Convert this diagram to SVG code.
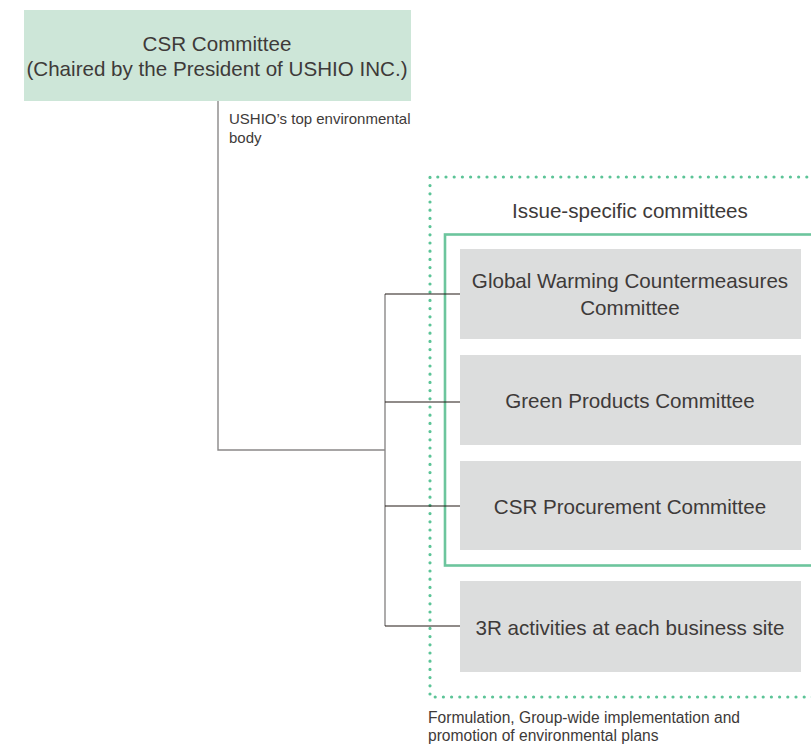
<svg xmlns="http://www.w3.org/2000/svg" width="811" height="746" viewBox="0 0 811 746">
<style>
text{font-family:"Liberation Sans",Arial,sans-serif;fill:#3e3a39}
.t{font-size:20.6px;text-anchor:middle}
.s{font-size:15px}
.b{font-size:15.6px}
.box{fill:#dcdddd}
.v{stroke:#8a8888;stroke-width:1.4;fill:none}
.h{stroke:#231815;stroke-width:1.1;fill:none}
</style>
<rect width="811" height="746" fill="#ffffff"/>
<g id="issue-group">
<path d="M815 177 H430 V697 H815" fill="none" stroke="#5cc497" stroke-width="3.2" stroke-linecap="round" stroke-dasharray="0 8.2"/>
<text class="t" x="630" y="218">Issue-specific committees</text>
<rect x="445" y="234.5" width="380" height="331" fill="none" stroke="#6cc59d" stroke-width="2.6"/>
</g>
<g id="connectors">
<path class="v" d="M218 100 V450 H385"/>
<path class="v" d="M385 294 V626"/>
<path class="h" d="M385 294 H460 M385 402 H460 M385 506 H460 M385 626 H460"/>
</g>
<g id="csr">
<rect x="24" y="10" width="387" height="91" fill="#cde6d8"/>
<text class="t" x="217" y="51">CSR Committee</text>
<text class="t" x="217" y="76">(Chaired by the President of USHIO INC.)</text>
</g>
<g id="label-top">
<text class="s" x="229" y="124">USHIO’s top environmental</text>
<text class="s" x="229" y="143">body</text>
</g>
<g id="gw">
<rect class="box" x="460" y="249" width="341" height="90"/>
<text class="t" x="630" y="288">Global Warming Countermeasures</text>
<text class="t" x="630" y="315">Committee</text>
</g>
<g id="gp">
<rect class="box" x="460" y="355" width="341" height="90"/>
<text class="t" x="630" y="408">Green Products Committee</text>
</g>
<g id="proc">
<rect class="box" x="460" y="461" width="341" height="89"/>
<text class="t" x="630" y="514">CSR Procurement Committee</text>
</g>
<g id="r3">
<rect class="box" x="460" y="581" width="341" height="91"/>
<text class="t" x="630" y="635">3R activities at each business site</text>
</g>
<g id="label-bottom">
<text class="b" x="428" y="723">Formulation, Group-wide implementation and</text>
<text class="b" x="428" y="741">promotion of environmental plans</text>
</g>
</svg>
